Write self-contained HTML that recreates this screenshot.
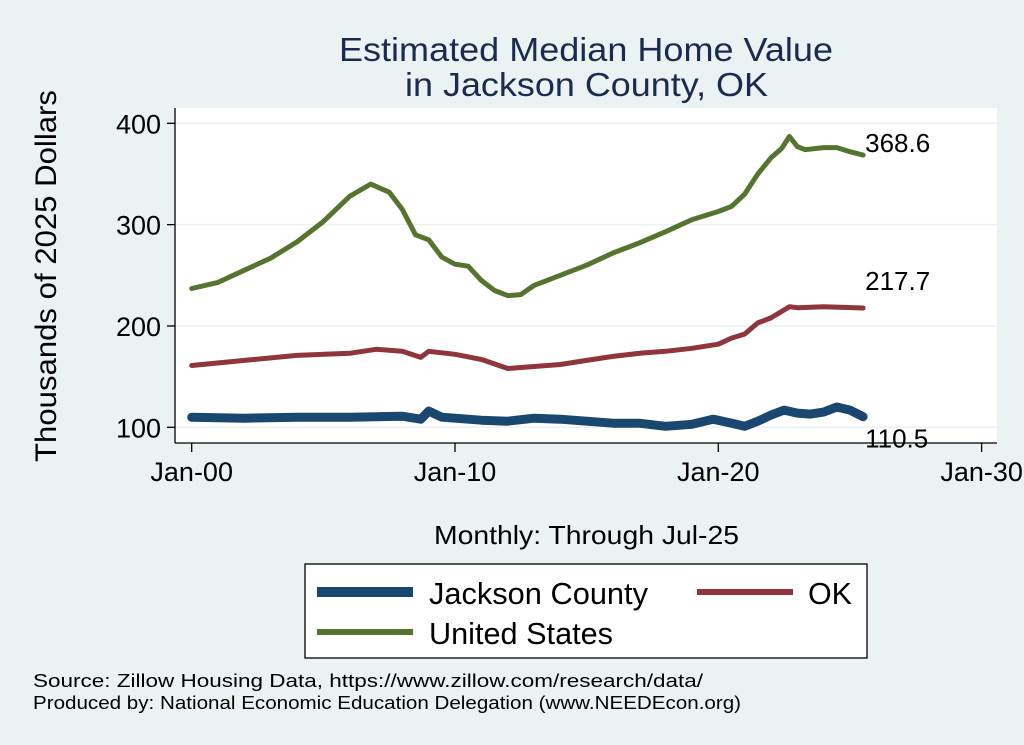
<!DOCTYPE html>
<html><head><meta charset="utf-8"><style>
body{margin:0;background:#eaf2f3;}
svg{display:block;font-family:"Liberation Sans",Arial,sans-serif;}
</style></head><body>
<svg width="1024" height="745" viewBox="0 0 1024 745">
<rect x="0" y="0" width="1024" height="745" fill="#eaf2f3"/>
<rect x="175" y="108" width="822" height="335" fill="#fff"/>
<text x="339" y="61" font-size="33" fill="#1a2b4f" textLength="494" lengthAdjust="spacingAndGlyphs">Estimated Median Home Value</text>
<text x="405" y="96" font-size="33" fill="#1a2b4f" textLength="363" lengthAdjust="spacingAndGlyphs">in Jackson County, OK</text>
<g id="grid"></g>
<g id="axes"></g>
<g id="series"></g>
<text transform="translate(56,276) rotate(-90)" font-size="30" text-anchor="middle" textLength="372" lengthAdjust="spacingAndGlyphs" fill="#000">Thousands of 2025 Dollars</text>
<text x="434" y="544" font-size="26" textLength="305" lengthAdjust="spacingAndGlyphs" fill="#000">Monthly: Through Jul-25</text>
<g>
<rect x="305" y="564" width="562" height="94" fill="#fff" stroke="#000" stroke-width="1.3"/>
<line x1="317" y1="592" x2="413" y2="592" stroke="#1a476f" stroke-width="10"/>
<text x="429" y="604" font-size="31" textLength="219" lengthAdjust="spacingAndGlyphs">Jackson County</text>
<line x1="697" y1="592" x2="793" y2="592" stroke="#90353b" stroke-width="6"/>
<text x="808" y="604" font-size="31" textLength="44" lengthAdjust="spacingAndGlyphs">OK</text>
<line x1="317" y1="632" x2="413" y2="632" stroke="#55752f" stroke-width="6"/>
<text x="429" y="644" font-size="31" textLength="184" lengthAdjust="spacingAndGlyphs">United States</text>
</g>
<text x="33" y="687" font-size="18" textLength="670" lengthAdjust="spacingAndGlyphs">Source: Zillow Housing Data, https://www.zillow.com/research/data/</text>
<text x="33" y="709" font-size="18" textLength="708" lengthAdjust="spacingAndGlyphs">Produced by: National Economic Education Delegation (www.NEEDEcon.org)</text>
</svg>
<script>
const yTicks=[100,200,300,400];
const xTickYears=[2000,2010,2020,2030];
const xTickLabels=["Jan-00","Jan-10","Jan-20","Jan-30"];
const usT=[2000,2001,2002,2003,2004,2005,2006,2006.8,2007.5,2008,2008.5,2009,2009.5,2010,2010.5,2011,2011.5,2012,2012.5,2013,2014,2015,2016,2017,2018,2019,2020,2020.5,2021,2021.5,2022,2022.4,2022.7,2023,2023.3,2024,2024.5,2025,2025.5];
const usV=[237,243,255,267,283,303,328,340,332,315,290,285,268,261,259,245,235,230,231,240,250,260,272,282,293,305,313,318,330,350,366,375,387,377,374,376,376,372,368.6];
const okT=[2000,2002,2004,2006,2007,2008,2008.7,2009,2010,2011,2012,2013,2014,2015,2016,2017,2018,2019,2020,2020.5,2021,2021.5,2022,2022.7,2023,2024,2025.5];
const okV=[161,166,171,173,177,175,169,175,172,167,158,160,162,166,170,173,175,178,182,188,192,203,208,219,218,219,217.7];
const jcT=[2000,2002,2004,2006,2008,2008.7,2009,2009.5,2011,2012,2013,2014,2015,2016,2017,2018,2019,2019.8,2020.5,2021,2021.5,2022,2022.5,2023,2023.5,2024,2024.5,2025,2025.5];
const jcV=[110,109,110,110,111,108,116,110,107,106,109,108,106,104,104,101,103,108,104,101,106,112,117,114,113,115,120,117,110.5];
const endLabels=["368.6","217.7","110.5"];
const NS="http://www.w3.org/2000/svg";
function xs(t){return 191.7+(t-2000)*26.33;}
function ys(v){return 427.3-(v-100)*1.0133;}
function mk(tag,attrs,parent){const e=document.createElementNS(NS,tag);for(const k in attrs)e.setAttribute(k,attrs[k]);parent.appendChild(e);return e;}
const grid=document.getElementById('grid'),axes=document.getElementById('axes'),series=document.getElementById('series');
yTicks.forEach(v=>{
 const g=mk('line',{x1:175,x2:997,y1:ys(v),y2:ys(v),stroke:'#eaf2f3','stroke-width':1.5},grid);
 
 
 const t=mk('line',{x1:167,x2:175,y1:ys(v),y2:ys(v),stroke:'#000','stroke-width':1.3},axes);
 
 
 const l=mk('text',{x:161,y:ys(v)+10,'font-size':27,'text-anchor':'end'},axes);
 l.textContent=String(v);
 
 
});
xTickYears.forEach((yr,i)=>{
 const t=mk('line',{x1:xs(yr),x2:xs(yr),y1:443,y2:452,stroke:'#000','stroke-width':1.3},axes);
 
 
 const l=mk('text',{x:xs(yr),y:481,'font-size':27,'text-anchor':'middle'},axes);
 l.textContent=xTickLabels[i];
 
 
});
const ya=mk('line',{x1:175,x2:175,y1:108,y2:443,stroke:'#000','stroke-width':1.3},axes);


const xa=mk('line',{x1:175,x2:997,y1:443,y2:443,stroke:'#000','stroke-width':1.3},axes);


function line(T,V,color,w,name){
 const d=T.map((t,i)=>(i?'L':'M')+xs(t).toFixed(1)+','+ys(V[i]).toFixed(1)).join(' ');
 const p=mk('path',{d:d,fill:'none',stroke:color,'stroke-width':w,'stroke-linejoin':'round','stroke-linecap':'round'},series);
 
 
}
line(usT,usV,'#55752f',5,'line-united-states');
line(okT,okV,'#90353b',5,'line-ok');
line(jcT,jcV,'#1a476f',9,'line-jackson-county');
const ends=[[usT,usV],[okT,okV],[jcT,jcV]];
const offs=[-12,-27,22];
ends.forEach((s,i)=>{
 const n=s[0].length-1;
 const l=mk('text',{x:xs(s[0][n])+2,y:ys(s[1][n])+offs[i]+9,'font-size':26},series);
 l.textContent=endLabels[i];
 
 
});
</script>
</body></html>
